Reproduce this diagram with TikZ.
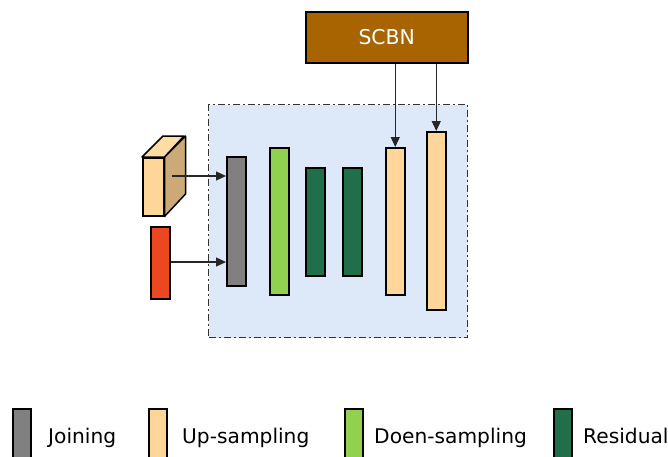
\documentclass[tikz,border=0pt]{standalone}
\usepackage{fontspec}
\setmainfont{DejaVu Sans}
\usetikzlibrary{arrows.meta}
\definecolor{scbncol}{HTML}{A86400}
\definecolor{contfill}{HTML}{DDE8F8}
\definecolor{joincol}{HTML}{808080}
\definecolor{upcol}{HTML}{FFD699}
\definecolor{downcol}{HTML}{92D050}
\definecolor{rescol}{HTML}{216E4A}
\definecolor{redcol}{HTML}{EB4721}
\definecolor{sidecol}{HTML}{CCAA77}
\definecolor{topcol}{HTML}{FFDEA6}
\definecolor{bordcol}{HTML}{333333}
\tikzset{
  bar/.style={draw=black, line width=1.5pt, rectangle, inner sep=0pt, anchor=north west},
  arr/.style={draw=black!85, line width=1.2pt, -{Triangle[length=10pt,width=9pt]}},
  legtext/.style={anchor=base west, font=\fontsize{20.2}{24}\selectfont, text=black, inner sep=0pt},
}
\begin{document}
\begin{tikzpicture}[x=1pt,y=-1pt]
\useasboundingbox (0,0) rectangle (668,456);
% container
\node[draw=bordcol, fill=contfill, line width=1.4pt, dash pattern=on 7pt off 3pt on 2pt off 3pt,
  rectangle, inner sep=0pt, anchor=north west, minimum width=259pt, minimum height=233pt] (cont) at (208,104) {};
% SCBN
\node[bar, fill=scbncol, minimum width=162pt, minimum height=51pt, text=white,
  font=\fontsize{20.4}{24}\selectfont] (scbn) at (305,11) {SCBN};
% bars
\node[bar, fill=joincol, minimum width=19pt, minimum height=129pt] (join) at (226,156) {};
\node[bar, fill=downcol, minimum width=19pt, minimum height=147pt] (down) at (269,147) {};
\node[bar, fill=rescol, minimum width=19pt, minimum height=108pt] (resa) at (305,167) {};
\node[bar, fill=rescol, minimum width=19pt, minimum height=108pt] (resb) at (342,167) {};
\node[bar, fill=upcol, minimum width=19pt, minimum height=147pt] (upa) at (385,147) {};
\node[bar, fill=upcol, minimum width=19pt, minimum height=178pt] (upb) at (426,131) {};
% red input
\node[bar, fill=redcol, minimum width=19pt, minimum height=72pt] (red) at (150,226) {};
% cube
\node[bar, fill=upcol, minimum width=21pt, minimum height=58pt] (cube) at (142,157) {};
\draw[fill=sidecol, line width=1.5pt, line join=round] (cube.north east) -- ++(21,-21) -- ++(0,58) -- (cube.south east) -- cycle;
\draw[fill=topcol, line width=1.5pt, line join=round] (cube.north west) -- ++(21,-21) -- ++(21,0) -- (cube.north east) -- cycle;
\coordinate (cubec) at (172,176);
% arrows
\draw[arr] (cubec) -- (cubec -| join.west);
\draw[arr] (red.east |- 0,262) -- (join.west |- 0,262);
\draw[arr] (scbn.south -| upa.north) -- (upa.north);
\draw[arr] (scbn.south -| upb.north) -- (upb.north);
% legend
\node[bar, fill=joincol, minimum width=18pt, minimum height=54pt] (lj) at (12,408) {};
\node[legtext] (ljt) at (48,443) {Joining};
\node[bar, fill=upcol, minimum width=18pt, minimum height=54pt] (lu) at (148,408) {};
\node[legtext] (lut) at (182,443) {Up-sampling};
\node[bar, fill=downcol, minimum width=18pt, minimum height=54pt] (ld) at (344,408) {};
\node[legtext] (ldt) at (374,443) {Doen-sampling};
\node[bar, fill=rescol, minimum width=18pt, minimum height=54pt] (lr) at (553,408) {};
\node[legtext] (lrt) at (583,443) {Residual};
\end{tikzpicture}
\end{document}
